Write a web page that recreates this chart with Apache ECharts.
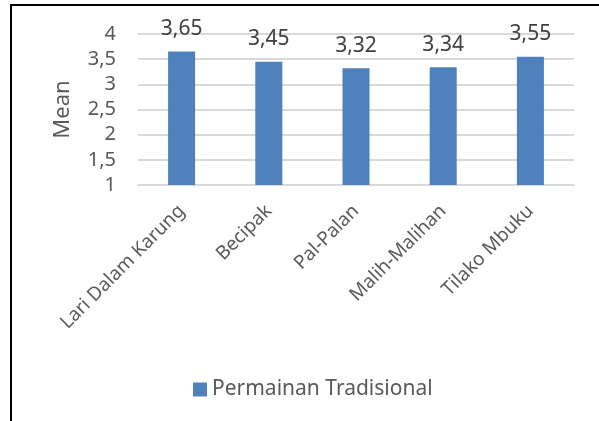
<!DOCTYPE html>
<html>
<head>
<meta charset="utf-8">
<script src="https://cdn.jsdelivr.net/npm/echarts@6/dist/echarts.min.js"></script>
<style>
  html, body { margin: 0; padding: 0; background: #fff; }
  .frame {
    position: absolute;
    left: 10px;
    top: 4px;
    width: 589px;
    height: 417px;
    border-left: 2px solid #000;
    border-top: 2px solid #000;
  }
  #chart {
    position: absolute;
    left: 0;
    top: 0;
    width: 599px;
    height: 421px;
  }
</style>
</head>
<body>
<div class="frame"></div>
<div id="chart"></div>
<script>
const categories = ['Lari Dalam Karung', 'Becipak', 'Pal-Palan', 'Malih-Malihan', 'Tilako Mbuku'];
const meanValues = [3.65, 3.45, 3.32, 3.34, 3.55];
const seriesName = 'Permainan Tradisional';

var chartDom = document.getElementById('chart');
var myChart = echarts.init(chartDom);
var option;

const fontFamily = '"Noto Sans", "Open Sans", sans-serif';
const commaNum = function (v) {
  return String(v).replace('.', ',');
};

option = {
  animation: false,
  textStyle: { fontFamily: fontFamily },
  grid: {
    left: 138,
    right: 25,
    top: 34,
    bottom: 236
  },
  legend: {
    data: [seriesName],
    left: 188,
    top: 374,
    icon: 'rect',
    itemWidth: 14,
    itemHeight: 14,
    itemGap: 8,
    textStyle: {
      fontSize: 21,
      color: '#595959',
      fontFamily: fontFamily
    }
  },
  xAxis: {
    type: 'category',
    data: categories,
    axisLine: { show: true, lineStyle: { color: '#d9d9d9', width: 2 } },
    axisTick: { show: false },
    axisLabel: {
      rotate: 45,
      margin: 23,
      fontSize: 19,
      color: '#595959',
      fontFamily: fontFamily
    }
  },
  yAxis: {
    type: 'value',
    min: 1,
    max: 4,
    interval: 0.5,
    name: 'Mean',
    nameLocation: 'middle',
    nameGap: 64,
    nameRotate: 90,
    nameTextStyle: {
      fontSize: 22,
      color: '#595959',
      fontFamily: fontFamily
    },
    axisLine: { show: false },
    axisTick: { show: false },
    axisLabel: {
      margin: 22,
      fontSize: 20,
      color: '#595959',
      fontFamily: fontFamily,
      formatter: commaNum
    },
    splitLine: { lineStyle: { color: '#d9d9d9', width: 2 } }
  },
  series: [
    {
      name: seriesName,
      type: 'bar',
      data: meanValues,
      barWidth: '31%',
      itemStyle: { color: '#4f81bd' },
      label: {
        show: true,
        position: 'top',
        distance: 12,
        fontSize: 21,
        color: '#404040',
        fontFamily: fontFamily,
        formatter: function (p) {
          return commaNum(p.value.toFixed(2));
        }
      }
    }
  ]
};

option && myChart.setOption(option);
</script>
</body>
</html>
